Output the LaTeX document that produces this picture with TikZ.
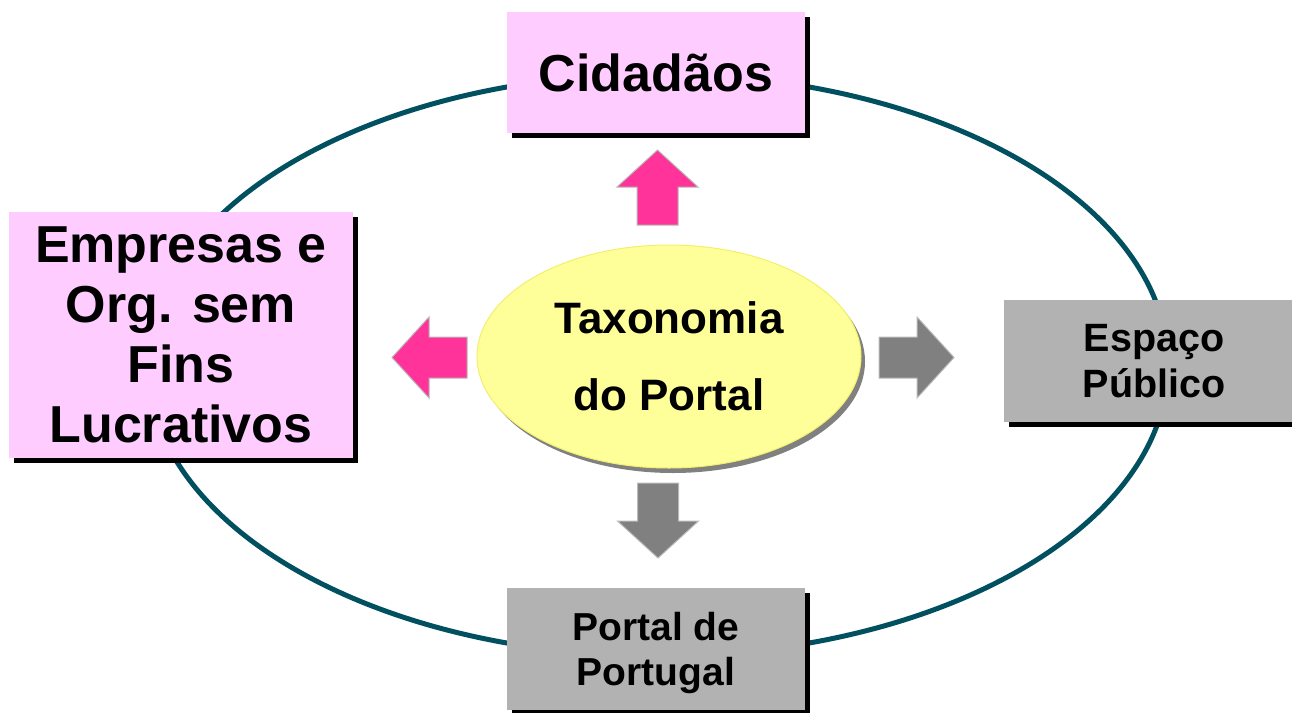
\documentclass[tikz,border=0pt]{standalone}
\usepackage{fontspec}
\setmainfont{Liberation Sans}
\usepackage{tikz}
\usetikzlibrary{shapes,shadows,positioning}

\definecolor{ringteal}{RGB}{0,80,96}
\definecolor{boxpink}{RGB}{255,204,255}
\definecolor{boxgray}{RGB}{178,178,178}
\definecolor{taxyellow}{RGB}{255,255,153}
\definecolor{taxrim}{RGB}{240,240,110}
\definecolor{arrpink}{RGB}{255,51,153}
\definecolor{arrgray}{RGB}{128,128,128}

\tikzset{
  box/.style={rectangle, inner sep=0pt, align=center,
    drop shadow={shadow xshift=5pt, shadow yshift=-5pt, fill=black, opacity=1}},
  pinkbox/.style={box, fill=boxpink},
  graybox/.style={box, fill=boxgray},
  fatarrow/.pic={
    \filldraw[draw=gray!55, line width=1pt]
      (0,-20.5) -- (38,-20.5) -- (38,-40.5) -- (75,0) -- (38,40.5) -- (38,20.5) -- (0,20.5) -- cycle;
  }
}

\begin{document}
\begin{tikzpicture}[x=1pt, y=-1pt]
  \useasboundingbox (0,0) rectangle (1292,712);
  \draw[ringteal, line width=5pt] (658,365) ellipse [x radius=510, y radius=291];

  \node[pinkbox, minimum width=298pt, minimum height=121pt, font=\fontsize{52}{60}\selectfont\bfseries]
    (cid) at (656,72.5) {Cidadãos};
  \node[pinkbox, minimum width=344pt, minimum height=246pt, font=\fontsize{52}{60}\selectfont\bfseries]
    (emp) at (181,335) {Empresas e\\Org. sem\\Fins\\Lucrativos};
  \node[graybox, minimum width=300pt, minimum height=122pt, font=\fontsize{39.5}{46}\selectfont\bfseries]
    (esp) at (1154,361) {Espaço\\Público};
  \node[graybox, minimum width=298pt, minimum height=122pt, font=\fontsize{39}{45}\selectfont\bfseries,
    text depth=0pt]
    (por) at (656,649) {Portal de\\Portugal};

  \node[ellipse, fill=taxyellow, draw=taxrim, line width=1pt, minimum width=384pt, minimum height=223pt,
    inner sep=0pt, align=center, font=\fontsize{44}{77}\selectfont\bfseries,
    drop shadow={shadow xshift=4pt, shadow yshift=-5pt, fill=arrgray, opacity=1}]
    (tax) at (669,356.5) {Taxonomia\\do Portal};

  \pic[fill=arrpink, rotate=90] (upArr) at (657.5,225) {fatarrow};
  \pic[fill=arrpink, rotate=180] (leftArr) at (467,357.5) {fatarrow};
  \pic[fill=arrgray] (rightArr) at (879,357.5) {fatarrow};
  \pic[fill=arrgray, rotate=270] (downArr) at (658,483) {fatarrow};
\end{tikzpicture}
\end{document}
